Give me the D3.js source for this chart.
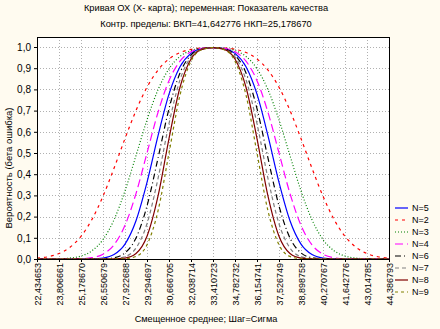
<!DOCTYPE html>
<html><head><meta charset="utf-8">
<script src="https://cdn.jsdelivr.net/npm/d3@7"></script>
<style>body{margin:0;background:#FFFBF0;}svg{display:block;}text{font-family:"Liberation Sans",Arial,sans-serif;}</style>
</head><body><svg id="c" width="440" height="329"></svg>
<script>
const titleLines = ["Кривая ОХ (X- карта); переменная: Показатель качества", "Контр. пределы: ВКП=41,642776 НКП=25,178670"];
const xTitle = "Смещенное среднее; Шаг=Сигма";
const yTitle = "Вероятность (бета ошибка)";
const xTickValues = [22.434653,23.806661,25.178670,26.550679,27.922688,29.294697,30.666705,32.038714,33.410723,34.782732,36.154741,37.526749,38.898758,40.270767,41.642776,43.014785,44.386793];
const xTickLabels = ["22,434653","23,806661","25,178670","26,550679","27,922688","29,294697","30,666705","32,038714","33,410723","34,782732","36,154741","37,526749","38,898758","40,270767","41,642776","43,014785","44,386793"];
const yTickValues = [0,0.1,0.2,0.3,0.4,0.5,0.6,0.7,0.8,0.9,1.0];
const shifts = [22.434653,23.120658,23.806661,24.492666,25.178670,25.864675,26.550679,27.236684,27.922688,28.608693,29.294697,29.980701,30.666705,31.352710,32.038714,32.724719,33.410723,34.096728,34.782732,35.468737,36.154741,36.840745,37.526749,38.212754,38.898758,39.584763,40.270767,40.956772,41.642776,42.328781,43.014785,43.700789,44.386793];
const seriesNames = ["N=5","N=2","N=3","N=4","N=6","N=7","N=8","N=9"];
const betaN5 = [0,0,0,0,0.0001,0.0008,0.0048,0.0211,0.0705,0.1806,0.3617,0.5812,0.7776,0.9071,0.9701,0.9925,0.9973,0.9925,0.9701,0.9071,0.7776,0.5812,0.3617,0.1806,0.0705,0.0211,0.0048,0.0008,0.0001,0,0,0,0];
const betaN2 = [0.0039,0.0106,0.0256,0.0552,0.1070,0.1870,0.2961,0.4278,0.5681,0.7002,0.8102,0.8911,0.9436,0.9738,0.9890,0.9955,0.9973,0.9955,0.9890,0.9738,0.9436,0.8911,0.8102,0.7002,0.5681,0.4278,0.2961,0.1870,0.1070,0.0552,0.0256,0.0106,0.0039];
const betaN3 = [0.0000,0.0002,0.0011,0.0043,0.0140,0.0390,0.0918,0.1849,0.3214,0.4876,0.6561,0.7982,0.8976,0.9555,0.9836,0.9946,0.9973,0.9946,0.9836,0.9555,0.8976,0.7982,0.6561,0.4876,0.3214,0.1849,0.0918,0.0390,0.0140,0.0043,0.0011,0.0002,0.0000];
const betaN4 = [0,0,0,0.0002,0.0013,0.0062,0.0228,0.0668,0.1587,0.3085,0.5000,0.6915,0.8413,0.9332,0.9772,0.9936,0.9973,0.9936,0.9772,0.9332,0.8413,0.6915,0.5000,0.3085,0.1587,0.0668,0.0228,0.0062,0.0013,0.0002,0,0,0];
const betaN6 = [0,0,0,0,0,0.0001,0.0009,0.0060,0.0288,0.0990,0.2502,0.4753,0.7091,0.8776,0.9621,0.9914,0.9973,0.9914,0.9621,0.8776,0.7091,0.4753,0.2502,0.0990,0.0288,0.0060,0.0009,0.0001,0,0,0,0,0];
const betaN7 = [0,0,0,0,0,0,0.0002,0.0016,0.0110,0.0516,0.1663,0.3794,0.6383,0.8452,0.9532,0.9902,0.9973,0.9902,0.9532,0.8452,0.6383,0.3794,0.1663,0.0516,0.0110,0.0016,0.0002,0,0,0,0,0,0];
const betaN8 = [0,0,0,0,0,0,0,0.0004,0.0039,0.0256,0.1070,0.2961,0.5681,0.8102,0.9436,0.9891,0.9973,0.9891,0.9436,0.8102,0.5681,0.2961,0.1070,0.0256,0.0039,0.0004,0,0,0,0,0,0,0];
const betaN9 = [0,0,0,0,0,0,0,0.0001,0.0013,0.0122,0.0668,0.2266,0.5000,0.7734,0.9332,0.9878,0.9973,0.9878,0.9332,0.7734,0.5000,0.2266,0.0668,0.0122,0.0013,0.0001,0,0,0,0,0,0,0];

const seriesValues = [betaN5,betaN2,betaN3,betaN4,betaN6,betaN7,betaN8,betaN9];
const styles = [
  {c:"#0000FF", d:null},
  {c:"#FF0000", d:"3,4"},
  {c:"#008000", d:"1,2"},
  {c:"#FF00FF", d:"8,4"},
  {c:"#000000", d:"6,3,1,3"},
  {c:"#808080", d:"4,3"},
  {c:"#800000", d:null},
  {c:"#808000", d:"3,3"}
];

const svg = d3.select("#c");
const L=37, R=390, T=37, B=259;
const x = d3.scaleLinear().domain([22.434653,44.386793]).range([37,389]);
const y = d3.scaleLinear().domain([0,1]).range([B,47]);

svg.append("rect").attr("width",440).attr("height",329).attr("fill","#FFFBF0");
svg.append("rect").attr("x",L).attr("y",T).attr("width",R-L).attr("height",B-T).attr("fill","#fff");

// grid
const grid = svg.append("g").attr("stroke","#b0b0b0").attr("stroke-dasharray","1,2").attr("stroke-width",1);
xTickValues.forEach(v=>{ const px=Math.round(x(v))+0.5; if(px>L+1 && px<R-1) grid.append("line").attr("x1",px).attr("x2",px).attr("y1",T).attr("y2",B); });
yTickValues.forEach(v=>{ const py=Math.round(y(v))+0.5; if(py>T+1 && py<B-1) grid.append("line").attr("x1",L).attr("x2",R).attr("y1",py).attr("y2",py); });

// curves
const line = d3.line().x((d,i)=>x(shifts[i])).y(d=>y(d)).curve(d3.curveMonotoneX);
svg.append("clipPath").attr("id","pc").append("rect").attr("x",L).attr("y",T).attr("width",R-L).attr("height",B-T+1);
const cg = svg.append("g").attr("clip-path","url(#pc)");
seriesValues.forEach((vals,k)=>{
  cg.append("path").attr("d",line(vals)).attr("fill","none").attr("stroke",styles[k].c)
    .attr("stroke-width",1.2).attr("stroke-dasharray",styles[k].d);
});

// frame
svg.append("rect").attr("x",L+0.5).attr("y",T+0.5).attr("width",R-L-1).attr("height",B-T).attr("fill","none").attr("stroke","#000");

// y axis
const ya = svg.append("g").attr("transform",`translate(${L},0)`).call(d3.axisLeft(y).tickValues(yTickValues).tickSize(3).tickFormat(d=>d.toFixed(1).replace(".",",")));
ya.select(".domain").remove();
ya.selectAll("text").attr("font-size",10).attr("font-family","Liberation Sans, Arial, sans-serif").attr("fill","#000");

// x axis
const xa = svg.append("g").attr("transform",`translate(0,${B})`).call(d3.axisBottom(x).tickValues(xTickValues).tickSize(3).tickFormat((d,i)=>xTickLabels[i]));
xa.select(".domain").remove();
xa.selectAll("text").attr("font-size",9).attr("font-family","Liberation Sans, Arial, sans-serif").attr("fill","#000")
  .attr("transform","rotate(-90)").attr("text-anchor","end").attr("x",-4).attr("y",0).attr("dy","0.35em");

// titles
titleLines.forEach((t,i)=>svg.append("text").attr("x",206).attr("y",11+i*15.5).attr("text-anchor","middle").attr("font-size",9.3).text(t));
svg.append("text").attr("x",206).attr("y",322).attr("text-anchor","middle").attr("font-size",9.2).text(xTitle);
svg.append("text").attr("transform","translate(12,168) rotate(-90)").attr("text-anchor","middle").attr("font-size",9.5).text(yTitle);

// legend
const legY = [208,220,232,244,256,268,280,292];
seriesNames.forEach((n,k)=>{
  const g = svg.append("g").attr("transform",`translate(0,${legY[k]})`);
  g.append("line").attr("x1",395).attr("x2",408).attr("y1",0).attr("y2",0).attr("stroke",styles[k].c).attr("stroke-width",1.2).attr("stroke-dasharray",styles[k].d);
  g.append("text").attr("x",412).attr("y",0).attr("dy","0.35em").attr("font-size",9).text(n);
});
</script></body></html>
